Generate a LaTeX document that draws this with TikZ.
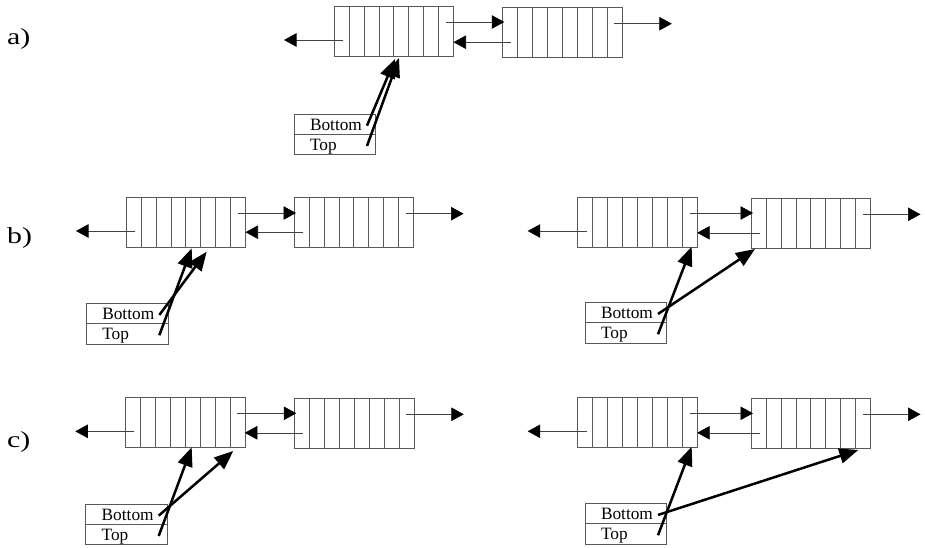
\documentclass[tikz,border=0pt]{standalone}
\usepackage{fontspec}
\setmainfont{Liberation Serif}
\usetikzlibrary{arrows.meta,calc}
\tikzset{
  qblock/.style={draw=black!65, line width=0.6pt, minimum width=119.5pt, minimum height=50pt,
    inner sep=0pt, outer sep=0pt, anchor=north west},
  cellline/.style={draw=black!65, line width=0.6pt},
  link/.style={draw=black!75, line width=0.6pt, -{Triangle[length=12.5pt,width=13.5pt,color=black]}},
  ptr/.style={draw=black, line width=2.5pt, -{Triangle[length=19pt,width=15pt]}},
  rowbox/.style={draw=black!65, line width=0.6pt, anchor=north west, minimum height=20.3pt,
    text width=81.5pt, inner xsep=0pt, inner ysep=0pt, outer sep=0pt, align=left,
    text height=14pt, text depth=2pt, font=\fontsize{17.3}{20}\selectfont},
  lbl/.style={anchor=base west, inner sep=0pt, font=\fontsize{23}{28}\selectfont}
}
\newcommand\qpair[5]{%
  \node[qblock] (#1L) at (#2,#3) {};
  \node[qblock] (#1R) at (#4,#5) {};
  \foreach \k in {1,...,7}{
    \draw[cellline] ($(#1L.north west)+(\k*14.94,0)$) -- ($(#1L.south west)+(\k*14.94,0)$);
    \draw[cellline] ($(#1R.north west)+(\k*14.94,0)$) -- ($(#1R.south west)+(\k*14.94,0)$);
  }
  \coordinate (#1o1) at ($(#1L.north west)+(9,34)$);
  \coordinate (#1o1e) at ($(#1L.west)+(-50,0)$);
  \draw[link] (#1o1) -- (#1o1 -| #1o1e);
  \coordinate (#1o2) at ($(#1L.north west)+(112,16)$);
  \coordinate (#1o2e) at ($(#1R.west)+(2,0)$);
  \draw[link] (#1o2) -- (#1o2 -| #1o2e);
  \coordinate (#1o3) at ($(#1R.north west)+(9,34.5)$);
  \draw[link] (#1o3) -- (#1o3 -| #1L.east);
  \coordinate (#1o4) at ($(#1R.north west)+(112,16)$);
  \coordinate (#1o4e) at ($(#1R.east)+(50,0)$);
  \draw[link] (#1o4) -- (#1o4 -| #1o4e);
}
\newcommand\stackbox[3]{%
  \node[rowbox] (#1B) at (#2,#3) {\hspace*{16pt}Bottom};
  \node[rowbox] (#1T) at (#1B.south west) {\hspace*{16pt}Top};
  \coordinate (#1Bs) at ($(#1B.east)+(-8.5,1.5)$);
  \coordinate (#1Ts) at ($(#1T.east)+(-8.5,1.5)$);
}
\begin{document}
\begin{tikzpicture}[x=1pt, y=-1pt]
\useasboundingbox (0,0) rectangle (925,548);
% labels
\node[lbl] (la) at (7,45) {\scalebox{1.3}[1]{a)}};
\node[lbl] (lb) at (7,243) {\scalebox{1.3}[1]{b)}};
\node[lbl] (lc) at (7,447) {\scalebox{1.3}[1]{c)}};
% a)
\qpair{a}{334}{6}{502.3}{7.7}
\stackbox{a}{294}{114}
\coordinate (aBt) at ($(aL.south west)+(61,3)$);
\coordinate (aTt) at ($(aL.south west)+(65,2)$);
\draw[ptr] (aBs) -- (aBt);
\draw[ptr] (aTs) -- (aTt);
% b) left
\qpair{b}{126}{197}{294}{197.7}
\stackbox{b}{86.3}{303.3}
\coordinate (bBt) at ($(bL.south west)+(80.7,4.7)$);
\coordinate (bTt) at ($(bL.south west)+(65.7,1.3)$);
\draw[ptr] (bBs) -- (bBt);
\draw[ptr] (bTs) -- (bTt);
% b) right
\qpair{d}{577.7}{197}{751}{198.3}
\stackbox{d}{585}{302.3}
\coordinate (dBt) at ($(dR.south west)+(4,0.7)$);
\coordinate (dTt) at ($(dL.south west)+(114,-0.3)$);
\draw[ptr] (dBs) -- (dBt);
\draw[ptr] (dTs) -- (dTt);
% c) left
\qpair{c}{125.3}{397.3}{294.3}{398.3}
\stackbox{c}{85.7}{504}
\coordinate (cBt) at ($(cL.south west)+(108,3.7)$);
\coordinate (cTt) at ($(cL.south west)+(66.4,0)$);
\draw[ptr] (cBs) -- (cBt);
\draw[ptr] (cTs) -- (cTt);
% c) right
\qpair{e}{577.7}{397.3}{751}{398.3}
\stackbox{e}{585}{503.3}
\coordinate (eBt) at ($(eR.south west)+(107.3,1.7)$);
\coordinate (eTt) at ($(eL.south west)+(114,-0.6)$);
\draw[ptr] (eBs) -- (eBt);
\draw[ptr] (eTs) -- (eTt);
\end{tikzpicture}
\end{document}
